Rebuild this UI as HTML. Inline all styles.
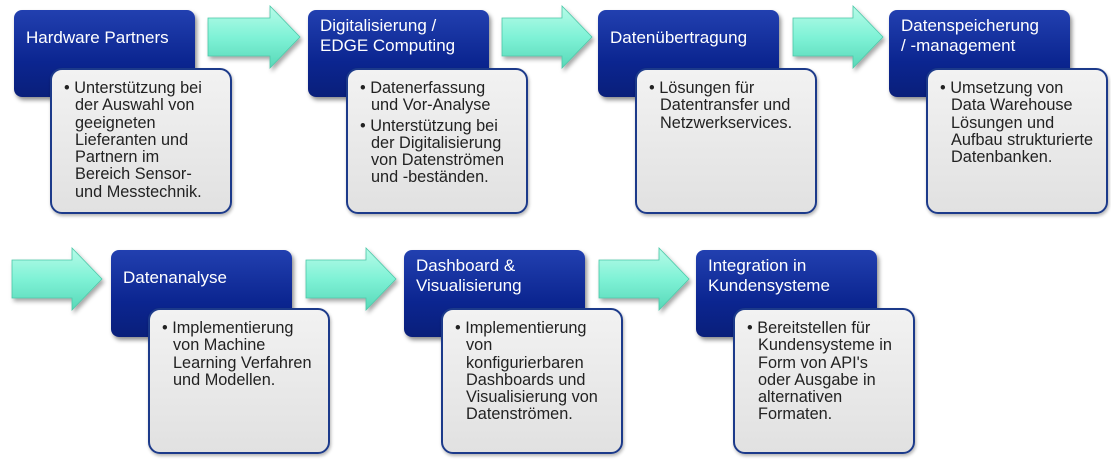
<!DOCTYPE html>
<html><head><meta charset="utf-8"><style>
body{margin:0;width:1111px;height:463px;background:#fff;position:relative;overflow:hidden;font-family:"Liberation Sans",sans-serif}
.b{position:absolute;width:181px;height:87px;border-radius:8px;background:linear-gradient(#2240b0,#0b2590 60%,#0a1f7a);box-shadow:2px 3px 4px rgba(0,0,0,.45);color:#fff;font-size:17px;line-height:20px;box-sizing:border-box;padding:18px 0 0 12px;white-space:nowrap}
.l{position:absolute;width:182px;height:146px;border-radius:12px;background:linear-gradient(#f2f2f2,#e1e1e1);border:2px solid #1c3a8a;box-sizing:border-box;box-shadow:1px 2px 3px rgba(0,0,0,.3);color:#222;font-size:16.3px;line-height:17.3px;padding:10px 2px 0 12px;white-space:nowrap}
.l p{margin:0 0 3px 11px;text-indent:-11px}
svg.a{position:absolute;width:94px;height:64px;overflow:visible}
</style></head><body>
<svg width="0" height="0"><defs><linearGradient id="g" x1="0" y1="0" x2="0" y2="1"><stop offset="0" stop-color="#b8fbe8"/><stop offset=".5" stop-color="#7ff2d6"/><stop offset="1" stop-color="#58d8b8"/></linearGradient><filter id="s"><feDropShadow dx="2" dy="3" stdDeviation="2" flood-opacity=".35"/></filter></defs></svg>

<div class="b" style="left:14px;top:10px">Hardware Partners</div>
<div class="l" style="left:50px;top:68px"><p>• Unterstützung bei<br>der Auswahl von<br>geeigneten<br>Lieferanten und<br>Partnern im<br>Bereich Sensor-<br>und Messtechnik.</p></div>

<div class="b" style="left:308px;top:10px;padding-top:6px">Digitalisierung /<br>EDGE Computing</div>
<div class="l" style="left:346px;top:68px"><p>• Datenerfassung<br>und Vor-Analyse</p><p>• Unterstützung bei<br>der Digitalisierung<br>von Datenströmen<br>und -beständen.</p></div>

<div class="b" style="left:598px;top:10px">Datenübertragung</div>
<div class="l" style="left:635px;top:68px"><p>• Lösungen für<br>Datentransfer und<br>Netzwerkservices.</p></div>

<div class="b" style="left:889px;top:10px;padding-top:6px">Datenspeicherung<br>/ -management</div>
<div class="l" style="left:926px;top:68px"><p>• Umsetzung von<br>Data Warehouse<br>Lösungen und<br>Aufbau strukturierte<br>Datenbanken.</p></div>

<div class="b" style="left:111px;top:250px">Datenanalyse</div>
<div class="l" style="left:148px;top:308px"><p>• Implementierung<br>von Machine<br>Learning Verfahren<br>und Modellen.</p></div>

<div class="b" style="left:404px;top:250px;padding-top:6px">Dashboard &amp;<br>Visualisierung</div>
<div class="l" style="left:441px;top:308px"><p>• Implementierung<br>von<br>konfigurierbaren<br>Dashboards und<br>Visualisierung von<br>Datenströmen.</p></div>

<div class="b" style="left:696px;top:250px;padding-top:6px">Integration in<br>Kundensysteme</div>
<div class="l" style="left:733px;top:308px"><p>• Bereitstellen für<br>Kundensysteme in<br>Form von API's<br>oder Ausgabe in<br>alternativen<br>Formaten.</p></div>

<svg class="a" style="left:208px;top:6px"><polygon filter="url(#s)" points="0,12 62,12 62,0 92,31 62,62 62,50 0,50" fill="url(#g)" stroke="#4cc8a8" stroke-width=".8"/></svg>
<svg class="a" style="left:502px;top:6px"><polygon filter="url(#s)" points="0,12 60,12 60,0 90,31 60,62 60,50 0,50" fill="url(#g)" stroke="#4cc8a8" stroke-width=".8"/></svg>
<svg class="a" style="left:793px;top:6px"><polygon filter="url(#s)" points="0,12 60,12 60,0 90,31 60,62 60,50 0,50" fill="url(#g)" stroke="#4cc8a8" stroke-width=".8"/></svg>
<svg class="a" style="left:12px;top:248px"><polygon filter="url(#s)" points="0,12 60,12 60,0 90,31 60,62 60,50 0,50" fill="url(#g)" stroke="#4cc8a8" stroke-width=".8"/></svg>
<svg class="a" style="left:306px;top:248px"><polygon filter="url(#s)" points="0,12 60,12 60,0 90,31 60,62 60,50 0,50" fill="url(#g)" stroke="#4cc8a8" stroke-width=".8"/></svg>
<svg class="a" style="left:599px;top:248px"><polygon filter="url(#s)" points="0,12 60,12 60,0 90,31 60,62 60,50 0,50" fill="url(#g)" stroke="#4cc8a8" stroke-width=".8"/></svg>
</body></html>
